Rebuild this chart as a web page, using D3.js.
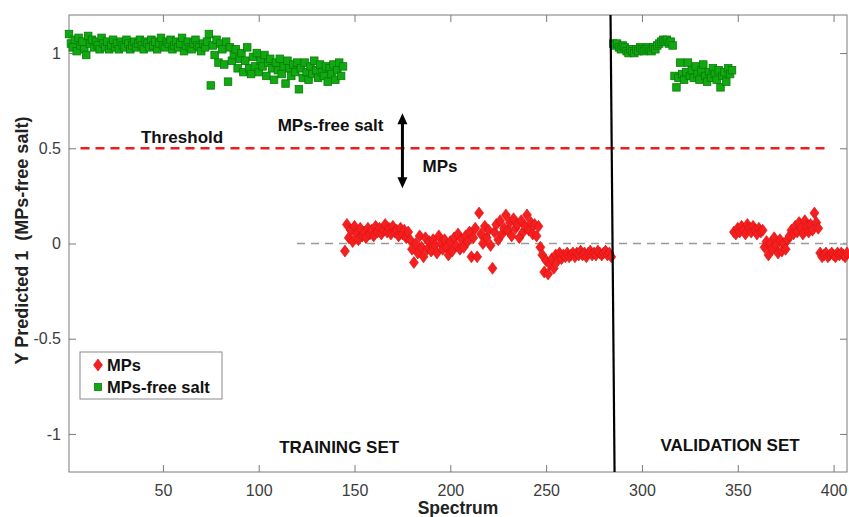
<!DOCTYPE html>
<html>
<head>
<meta charset="utf-8">
<script src="https://cdn.jsdelivr.net/npm/d3@7"></script>
<style>
  body { margin: 0; background: #fff; }
  text { font-family: Arial, "Liberation Sans", sans-serif; }
</style>
</head>
<body>
<div id="chart"></div>
<script>
// spectrum index where each series starts, values are one per spectrum
const greenTrainStart = 1;
const greenTrain = [
  1.10,1.05,1.03,1.07,1.01,1.08,1.04,1.06,1.02,0.99,1.09,1.05,
  1.07,1.03,1.06,1.04,1.02,1.08,1.05,1.03,1.06,1.02,1.04,1.07,
  1.03,1.05,1.02,1.06,1.04,1.03,1.07,1.05,1.02,1.04,1.06,1.03,
  1.05,1.07,1.04,1.02,1.06,1.05,1.03,1.07,1.04,1.06,1.02,1.05,
  1.08,1.04,1.03,1.06,1.05,1.07,1.02,1.04,1.06,1.03,1.05,1.08,
  1.01,1.04,1.06,1.03,1.02,1.05,1.07,1.04,1.03,1.01,1.05,1.03,
  1.06,1.10,0.83,1.04,0.99,1.07,0.95,1.05,1.02,0.94,1.06,0.85,
  1.03,0.96,0.99,1.02,0.92,0.97,1.00,0.90,0.96,1.03,0.92,0.89,
  0.98,0.93,1.00,0.90,0.96,0.93,0.99,0.88,0.95,0.97,0.92,0.86,
  0.95,0.91,0.97,0.89,0.93,0.84,0.96,0.92,0.88,0.94,0.90,0.95,
  0.81,0.92,0.87,0.95,0.90,0.86,0.93,0.89,0.96,0.91,0.87,0.94,
  0.90,0.88,0.93,0.85,0.92,0.89,0.94,0.86,0.91,0.95,0.88,0.93
];

const redTrainStart = 145;
const redTrain = [
  -0.04,0.10,0.03,0.07,0.01,0.09,0.05,0.02,0.08,0.04,0.06,0.03,
  0.08,0.05,0.07,0.04,0.09,0.06,0.08,0.05,0.07,0.10,0.06,0.08,
  0.05,0.09,0.06,0.07,0.04,0.08,0.05,0.07,0.03,0.06,0.02,-0.03,
  -0.10,0.00,-0.05,0.04,-0.02,-0.07,0.03,-0.03,0.01,-0.04,0.02,-0.01,
  -0.05,0.04,0.00,-0.03,0.02,-0.02,-0.06,0.01,-0.04,0.03,-0.01,0.05,
  -0.03,0.02,-0.02,0.04,0.01,0.06,-0.07,0.03,0.08,-0.07,0.16,0.05,
  0.00,0.09,0.03,0.07,-0.01,-0.13,0.06,0.10,0.02,0.12,0.05,0.08,
  0.15,0.07,0.11,0.04,0.13,0.08,0.10,0.03,0.12,0.06,0.09,0.15,
  0.07,0.11,0.05,0.10,0.04,0.09,-0.02,-0.06,-0.15,-0.09,-0.16,-0.11,
  -0.08,-0.13,-0.06,-0.09,-0.05,-0.08,-0.06,-0.07,-0.05,-0.07,-0.06,-0.05,
  -0.07,-0.05,-0.06,-0.04,-0.06,-0.05,-0.07,-0.05,-0.04,-0.06,-0.05,-0.06,
  -0.04,-0.05,-0.06,-0.05,-0.04,-0.06,-0.05,-0.07
];

const greenValStart = 285;
const greenVal = [
  1.05,1.04,1.05,1.03,1.02,1.04,1.03,1.01,1.00,1.02,1.01,1.00,
  1.02,1.01,1.03,1.02,1.01,1.02,1.03,1.02,1.01,1.03,1.02,1.04,
  1.05,1.06,1.07,1.06,1.07,1.05,1.06,1.04,
  0.88,0.82,0.87,0.95,0.89,0.86,0.90,0.95,0.88,0.91,0.87,0.93,
  0.89,0.86,0.91,0.94,0.88,0.85,0.90,0.87,0.92,0.89,0.86,0.91,
  0.82,0.88,0.90,0.85,0.92,0.89,0.91
];

const redValStart = 348;
const redVal = [
  0.06,0.05,0.08,0.06,0.09,0.07,0.05,0.10,0.08,0.06,0.09,0.07,0.05,0.08,0.06,0.07,
  -0.02,0.01,-0.06,0.00,-0.03,0.03,-0.01,-0.05,0.02,-0.04,0.00,-0.03,0.02,
  0.04,0.07,0.05,0.09,0.06,0.11,0.08,0.05,0.12,0.09,0.06,0.10,0.07,0.16,0.11,0.08,
  -0.05,-0.07,-0.06,-0.05,-0.07,-0.06,-0.05,-0.06,-0.07,-0.05,-0.06,-0.05,-0.06,-0.07,-0.05
];

const xTicks = [50, 100, 150, 200, 250, 300, 350, 400];
const yTicks = [-1, -0.5, 0, 0.5, 1];
const xDomain = [1, 407];
const yDomain = [-1.2, 1.2];
const threshold = 0.5;
const thresholdRange = [7, 397];
const zeroLineRange = [120, 407];
// train / validation split line (slightly slanted in the original)
const splitX = [283.6, 285.7];

const width = 849, height = 517;
const margin = { top: 15, right: 2, bottom: 45, left: 69 };
const w = width - margin.left - margin.right;
const h = height - margin.top - margin.bottom;

const toPoints = (start, vals) => vals.map((v, i) => ({ x: start + i, y: v }));
const greenPts = toPoints(greenTrainStart, greenTrain).concat(toPoints(greenValStart, greenVal));
const redPts = toPoints(redTrainStart, redTrain).concat(toPoints(redValStart, redVal));

const svg = d3.select("#chart")
  .append("svg")
  .attr("width", width)
  .attr("height", height)
  .append("g")
  .attr("transform", "translate(" + margin.left + "," + margin.top + ")");

const scaleX = d3.scaleLinear().domain(xDomain).range([0, w]);
const scaleY = d3.scaleLinear().domain(yDomain).range([h, 0]);

const axisColor = "#7a7a7a";
const tickColor = "#3c3c3c";

// box
svg.append("rect")
  .attr("width", w).attr("height", h)
  .attr("fill", "none").attr("stroke", axisColor).attr("stroke-width", 1);

// bottom axis, ticks pointing inward
const gx = svg.append("g")
  .attr("transform", "translate(0," + h + ")")
  .call(d3.axisBottom(scaleX).tickValues(xTicks).tickSize(-7).tickPadding(13).tickFormat(d3.format("d")));
const gxTop = svg.append("g")
  .call(d3.axisTop(scaleX).tickValues(xTicks).tickSize(-7).tickFormat(""));
const gy = svg.append("g")
  .call(d3.axisLeft(scaleY).tickValues(yTicks).tickSize(-7).tickPadding(8).tickFormat(d3.format("~g")));
const gyRight = svg.append("g")
  .attr("transform", "translate(" + w + ",0)")
  .call(d3.axisRight(scaleY).tickValues(yTicks).tickSize(-7).tickFormat(""));

[gx, gxTop, gy, gyRight].forEach(g => {
  g.select(".domain").remove();
  g.selectAll(".tick line").attr("stroke", axisColor);
  g.selectAll(".tick text")
    .attr("fill", tickColor)
    .style("font-size", "16px")
    .style("font-family", "Arial, 'Liberation Sans', sans-serif");
});
gy.selectAll(".tick text").text(d => d === 0 ? "0" : d3.format("~g")(d).replace("−", "-"));

// zero reference line
svg.append("line")
  .attr("x1", scaleX(zeroLineRange[0])).attr("x2", scaleX(zeroLineRange[1]))
  .attr("y1", scaleY(0)).attr("y2", scaleY(0))
  .attr("stroke", "#9a9a9a").attr("stroke-width", 1.5)
  .attr("stroke-dasharray", "8,6");

// threshold line
svg.append("line")
  .attr("x1", scaleX(thresholdRange[0])).attr("x2", scaleX(thresholdRange[1]))
  .attr("y1", scaleY(threshold)).attr("y2", scaleY(threshold))
  .attr("stroke", "#ee1c1c").attr("stroke-width", 2.5)
  .attr("stroke-dasharray", "9,6");

// green squares
const sq = 7.5;
svg.append("g").selectAll("rect")
  .data(greenPts)
  .join("rect")
  .attr("x", d => scaleX(d.x) - sq / 2)
  .attr("y", d => scaleY(d.y) - sq / 2)
  .attr("width", sq).attr("height", sq)
  .attr("fill", "#10a910")
  .attr("stroke", "#0a7a0a").attr("stroke-width", 0.8);

// red diamonds
const diamond = "M0,-6L4.5,0L0,6L-4.5,0Z";
svg.append("g").selectAll("path")
  .data(redPts)
  .join("path")
  .attr("transform", d => "translate(" + scaleX(d.x) + "," + scaleY(d.y) + ")")
  .attr("d", diamond)
  .attr("fill", "#f51f1f")
  .attr("stroke", "#d81010").attr("stroke-width", 0.6);

// split line
svg.append("line")
  .attr("x1", scaleX(splitX[0])).attr("y1", 0)
  .attr("x2", scaleX(splitX[1])).attr("y2", h)
  .attr("stroke", "#000").attr("stroke-width", 2.2);

// double arrow between classes
const arrowX = 175, arrowTop = 0.684, arrowBottom = 0.29;
const ax = scaleX(arrowX), ay1 = scaleY(arrowTop), ay2 = scaleY(arrowBottom);
svg.append("line")
  .attr("x1", ax).attr("x2", ax)
  .attr("y1", ay1 + 8).attr("y2", ay2 - 8)
  .attr("stroke", "#000").attr("stroke-width", 3);
svg.append("path")
  .attr("d", "M" + ax + "," + ay1 + "l-5,11l10,0z")
  .attr("fill", "#000");
svg.append("path")
  .attr("d", "M" + ax + "," + ay2 + "l-5,-11l10,0z")
  .attr("fill", "#000");

// annotations
const note = (txt, x, y, anchor) => svg.append("text")
  .attr("x", scaleX(x)).attr("y", scaleY(y))
  .attr("text-anchor", anchor || "middle")
  .style("font-size", "17px").style("font-weight", "bold")
  .attr("fill", "#111")
  .text(txt);
note("Threshold", 60, 0.526);
note("MPs-free salt", 137.5, 0.59);
note("MPs", 185.5, 0.374, "start");
note("TRAINING SET", 142, -1.098);
note("VALIDATION SET", 346, -1.092);

// axis titles
svg.append("text")
  .attr("x", w / 2).attr("y", h + 42)
  .attr("text-anchor", "middle")
  .style("font-size", "17.5px").style("font-weight", "bold")
  .attr("fill", "#222")
  .text("Spectrum");
svg.append("text")
  .attr("transform", "translate(-41," + (h / 2 - 3) + ") rotate(-90)")
  .attr("text-anchor", "middle")
  .style("font-size", "18px").style("font-weight", "bold")
  .style("white-space", "pre")
  .attr("fill", "#222")
  .text("Y Predicted 1  (MPs-free salt)");

// legend
const lg = svg.append("g").attr("transform", "translate(" + (80 - margin.left) + "," + (352 - margin.top) + ")");
lg.append("rect")
  .attr("width", 142).attr("height", 47)
  .attr("fill", "#fff").attr("stroke", "#8a8a8a").attr("stroke-width", 1);
lg.append("path")
  .attr("transform", "translate(18,13)")
  .attr("d", diamond)
  .attr("fill", "#f51f1f").attr("stroke", "#d81010").attr("stroke-width", 0.6);
lg.append("rect")
  .attr("x", 18 - 3.5).attr("y", 35 - 3.5)
  .attr("width", 7).attr("height", 7)
  .attr("fill", "#10a910").attr("stroke", "#0a7a0a").attr("stroke-width", 0.8);
lg.append("text").attr("x", 27).attr("y", 19)
  .style("font-size", "16.5px").style("font-weight", "bold").attr("fill", "#111")
  .text("MPs");
lg.append("text").attr("x", 27).attr("y", 41)
  .style("font-size", "16.5px").style("font-weight", "bold").attr("fill", "#111")
  .text("MPs-free salt");
</script>
</body>
</html>
